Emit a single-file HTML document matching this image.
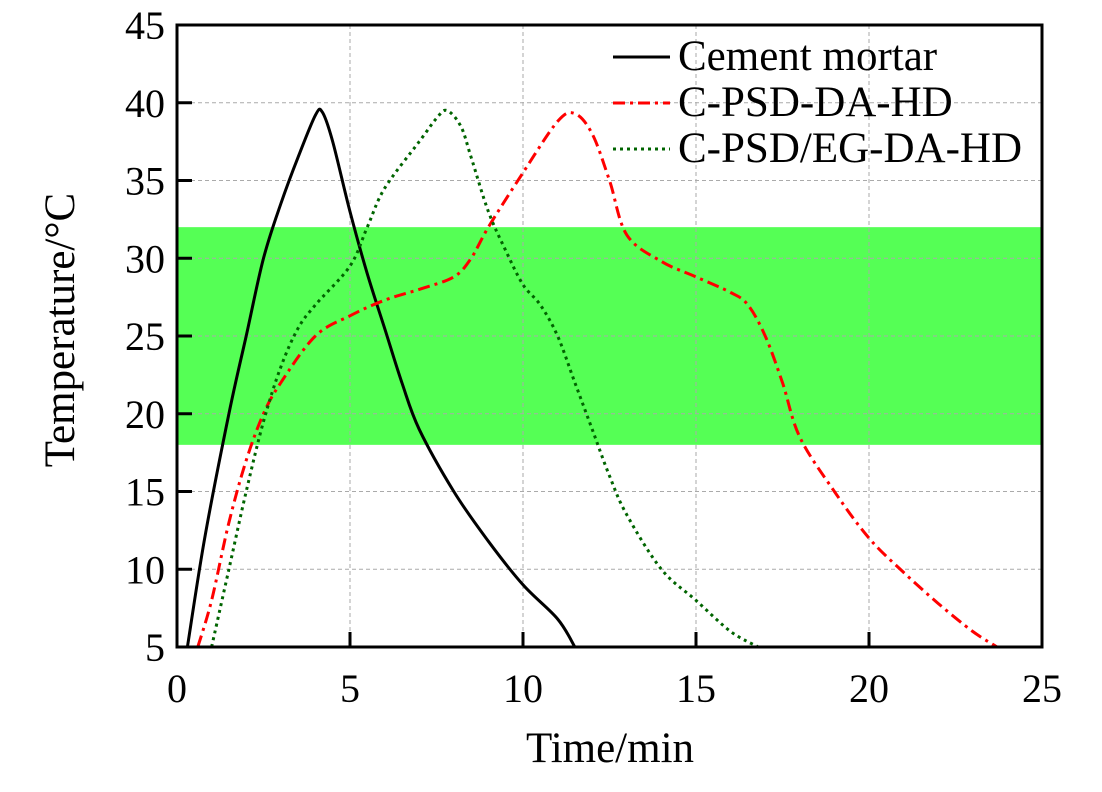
<!DOCTYPE html>
<html><head><meta charset="utf-8"><style>
body{margin:0;background:#fff}
text{font-family:"Liberation Serif",serif;fill:#000}
</style></head><body>
<svg id="chart" width="1102" height="787" xmlns="http://www.w3.org/2000/svg">
<rect id="band" fill="#55ff55"/>
<g id="grid"></g>
<g id="series"></g>
<rect x="177" y="25" width="865" height="622" fill="none" stroke="#000" stroke-width="3"/>
<g id="ticks"></g>
<text x="610" y="762" font-size="43" text-anchor="middle">Time/min</text>
<text transform="translate(74,330) rotate(-90)" font-size="43" text-anchor="middle">Temperature/°C</text>
<g>
<line x1="613" y1="57" x2="670" y2="57" stroke="#000" stroke-width="3"/>
<text x="678" y="70" font-size="43">Cement mortar</text>
<line x1="613" y1="103" x2="670" y2="103" stroke="#f00" stroke-width="3" stroke-dasharray="12,5,3,5"/>
<text x="678" y="116" font-size="43">C-PSD-DA-HD</text>
<line x1="613" y1="149" x2="670" y2="149" stroke="#006400" stroke-width="3" stroke-dasharray="3,4"/>
<text x="678" y="162" font-size="43">C-PSD/EG-DA-HD</text>
</g>
</svg>
<script>
const xTicks=[0,5,10,15,20,25];
const yTicks=[5,10,15,20,25,30,35,40,45];
const band=[18,32];
const cementX=[0.3,0.8,1.5,2,2.5,3,3.5,4,4.2,4.5,5,5.5,6,6.5,7,8,9,10,11,11.5];
const cementY=[5,12,20,25,30,33.5,36.5,39.2,39.4,37.5,33,29,25.5,22,19,15,11.8,9,6.8,5];
const psdX=[0.6,1,1.5,2,2.5,3,4,5,6,7,8,8.5,9,10,11,11.5,12,12.5,13,14,15,16,16.5,17,17.5,18,19,20,21,22,23,23.7];
const psdY=[5,8,13,17,20,22,25,26.3,27.3,28,28.8,30,32,35.5,38.8,39.3,38,35,31.5,29.8,28.8,27.8,27,25,22,18.5,15,12,9.8,7.8,6,5];
const egX=[1,1.5,2,2.5,3,3.5,4,5,5.5,6,7,7.5,7.8,8.2,8.5,9,9.5,10,10.5,11,11.5,12,12.5,13,14,15,16,16.8];
const egY=[5,10,15,19.5,23,25.5,27,29.5,32,34.5,37.5,39,39.5,38.5,36.5,33,30.5,28.3,27,25,22,19,16,13.5,10,8,6,5];
const L=177,R=1042,T=25,B=647;
const sx=v=>L+(v-0)/25*(R-L), sy=v=>B-(v-5)/40*(B-T);
const NS="http://www.w3.org/2000/svg";
function mk(tag,attrs,parent){const e=document.createElementNS(NS,tag);for(const k in attrs)e.setAttribute(k,attrs[k]);parent.appendChild(e);return e;}
const b=document.getElementById('band');
b.setAttribute('x',L);b.setAttribute('width',R-L);b.setAttribute('y',sy(band[1]));b.setAttribute('height',sy(band[0])-sy(band[1]));
const g=document.getElementById('grid'),tk=document.getElementById('ticks'),s=document.getElementById('series');
xTicks.forEach(v=>{
 if(v>0&&v<25){const l=mk('line',{x1:sx(v),x2:sx(v),y1:T,y2:B,stroke:'#aaa','stroke-width':1,'stroke-dasharray':'4,3'},g);
 
 }
 const t=mk('line',{x1:sx(v),x2:sx(v),y1:B,y2:B-15,stroke:'#000','stroke-width':3},tk);
 
 
 const tx=mk('text',{x:sx(v),y:B+55,'font-size':40,'text-anchor':'middle'},tk);tx.textContent=v;
 
 
});
yTicks.forEach(v=>{
 if(v>5&&v<45){const l=mk('line',{x1:L,x2:R,y1:sy(v),y2:sy(v),stroke:'#aaa','stroke-width':1,'stroke-dasharray':'4,3'},g);
 
 }
 const t=mk('line',{x1:L,x2:L+15,y1:sy(v),y2:sy(v),stroke:'#000','stroke-width':3},tk);
 
 
 const tx=mk('text',{x:L-12,y:sy(v)+14,'font-size':40,'text-anchor':'end'},tk);tx.textContent=v;
 
 
});
function path(xs,ys){
 const P=xs.map((x,i)=>[sx(x),sy(ys[i])]);
 let d='M'+P[0][0].toFixed(1)+','+P[0][1].toFixed(1);
 for(let i=0;i<P.length-1;i++){
  const p0=P[Math.max(0,i-1)],p1=P[i],p2=P[i+1],p3=P[Math.min(P.length-1,i+2)];
  const c1=[p1[0]+(p2[0]-p0[0])/6,p1[1]+(p2[1]-p0[1])/6],c2=[p2[0]-(p3[0]-p1[0])/6,p2[1]-(p3[1]-p1[1])/6];
  d+='C'+c1.map(v=>v.toFixed(1))+' '+c2.map(v=>v.toFixed(1))+' '+p2.map(v=>v.toFixed(1));
 }
 return d;}
const c=mk('path',{d:path(cementX,cementY),fill:'none',stroke:'#000','stroke-width':3,'stroke-linejoin':'round'},s);


const p=mk('path',{d:path(psdX,psdY),fill:'none',stroke:'#f00','stroke-width':3,'stroke-dasharray':'12,5,3,5'},s);


const e=mk('path',{d:path(egX,egY),fill:'none',stroke:'#006400','stroke-width':3,'stroke-dasharray':'3,4'},s);


</script>
</body></html>
